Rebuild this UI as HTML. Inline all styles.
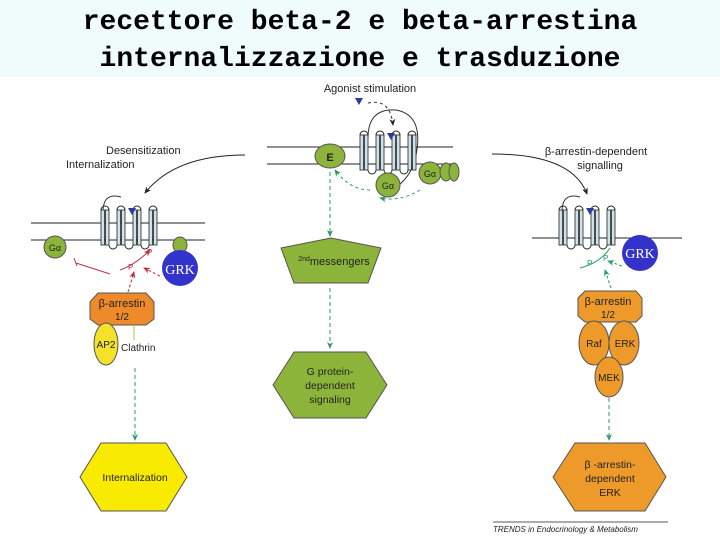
<!DOCTYPE html>
<html><head><meta charset="utf-8"><style>
body{margin:0;width:720px;height:540px;background:#fff;overflow:hidden}
</style></head><body>
<svg width="720" height="540" viewBox="0 0 720 540" xmlns="http://www.w3.org/2000/svg" font-family="Liberation Sans, sans-serif">
<defs>
<marker id="ag" markerWidth="8" markerHeight="8" refX="6" refY="4" orient="auto"><path d="M0,1 L7,4 L0,7 L2,4z" fill="#2a9a6a"/></marker>
<marker id="ak" markerWidth="8" markerHeight="8" refX="6" refY="4" orient="auto"><path d="M0,1 L7,4 L0,7 L2,4z" fill="#222"/></marker>
<marker id="ar" markerWidth="8" markerHeight="8" refX="6" refY="4" orient="auto"><path d="M0,1 L7,4 L0,7 L2,4z" fill="#c03040"/></marker>
<g id="rec">
<path d="M0,-25 a4,4 0 0 1 8,0 M16,-25 a4,4 0 0 1 8,0 M32,-25 a4,4 0 0 1 8,0 M48,-25 a4,4 0 0 1 8,0 M8,10 a4,4 0 0 0 8,0 M24,10 a4,4 0 0 0 8,0 M40,10 a4,4 0 0 0 8,0" fill="none" stroke="#222" stroke-width="1"/>
<rect x="0" y="-25" width="3.5" height="35" fill="#cfe3ea" stroke="#222" stroke-width=".8"/>
<rect x="4.5" y="-25" width="3.5" height="35" fill="#cfe3ea" stroke="#222" stroke-width=".8"/>
<rect x="16" y="-25" width="3.5" height="35" fill="#cfe3ea" stroke="#222" stroke-width=".8"/>
<rect x="20.5" y="-25" width="3.5" height="35" fill="#cfe3ea" stroke="#222" stroke-width=".8"/>
<rect x="32" y="-25" width="3.5" height="35" fill="#cfe3ea" stroke="#222" stroke-width=".8"/>
<rect x="36.5" y="-25" width="3.5" height="35" fill="#cfe3ea" stroke="#222" stroke-width=".8"/>
<rect x="48" y="-25" width="3.5" height="35" fill="#cfe3ea" stroke="#222" stroke-width=".8"/>
<rect x="52.5" y="-25" width="3.5" height="35" fill="#cfe3ea" stroke="#222" stroke-width=".8"/>
<path d="M27,-27 l8,0 l-4,7z" fill="#2a3a9a"/>
</g>
</defs>
<rect x="0" y="0" width="720" height="77" fill="#f0fcfc"/>
<text x="360" y="29" text-anchor="middle" font-family="Liberation Mono, monospace" font-weight="bold" font-size="28" fill="#000">recettore beta-2 e beta-arrestina</text>
<text x="360" y="66" text-anchor="middle" font-family="Liberation Mono, monospace" font-weight="bold" font-size="28" fill="#000">internalizzazione e trasduzione</text>

<!-- center -->
<text x="370" y="92" text-anchor="middle" font-size="11" fill="#222">Agonist stimulation</text>
<path d="M355,98 l8,0 l-4,7z" fill="#2a3a9a"/>
<path d="M368,103 q22,-5 25,22" fill="none" stroke="#333" stroke-dasharray="3,3" marker-end="url(#ak)"/>
<line x1="267" y1="147" x2="453" y2="147" stroke="#222"/>
<line x1="267" y1="164" x2="453" y2="164" stroke="#222"/>
<path d="M368,138 q0,-30 28,-28 q28,5 20,45 q-5,25 -25,35" fill="none" stroke="#333"/>
<use href="#rec" x="360" y="160"/>
<ellipse cx="330" cy="156" rx="15" ry="12" fill="#8db43a" stroke="#555"/>
<text x="330" y="161" text-anchor="middle" font-size="11" font-weight="bold" fill="#222">E</text>
<circle cx="388" cy="185" r="12" fill="#8db43a" stroke="#555"/>
<text x="388" y="189" text-anchor="middle" font-size="9" fill="#222">Gα</text>
<circle cx="430" cy="173" r="11" fill="#8db43a" stroke="#555"/>
<ellipse cx="446" cy="172" rx="6" ry="9" fill="#8db43a" stroke="#555"/>
<ellipse cx="454" cy="172" rx="5" ry="9" fill="#8db43a" stroke="#555"/>
<text x="430" y="177" font-size="9" text-anchor="middle" fill="#222">Gα</text>
<path d="M420,190 q-20,12 -40,8" fill="none" stroke="#2a9a6a" stroke-dasharray="3,3" marker-end="url(#ag)"/>
<path d="M370,190 q-20,0 -35,-20" fill="none" stroke="#2a9a6a" stroke-dasharray="3,3" marker-end="url(#ag)"/>
<line x1="330" y1="172" x2="330" y2="236" stroke="#2a9a6a" stroke-dasharray="4,3" marker-end="url(#ag)"/>
<polygon points="281,248 331,238 381,248 368,283 294,283" fill="#8db43a" stroke="#555"/>
<text x="334" y="265" text-anchor="middle" font-size="11" fill="#222"><tspan font-size="7" dy="-4">2nd</tspan><tspan dy="4">messengers</tspan></text>
<line x1="330" y1="288" x2="330" y2="348" stroke="#2a9a6a" stroke-dasharray="4,3" marker-end="url(#ag)"/>
<polygon points="294,352 366,352 387,385 366,418 294,418 273,385" fill="#8db43a" stroke="#555"/>
<text x="330" y="375" text-anchor="middle" font-size="10.5" fill="#222">G protein-</text>
<text x="330" y="389" text-anchor="middle" font-size="10.5" fill="#222">dependent</text>
<text x="330" y="403" text-anchor="middle" font-size="10.5" fill="#222">signaling</text>

<!-- left -->
<text x="106" y="154" font-size="11" fill="#222">Desensitization</text>
<text x="66" y="168" font-size="11" fill="#222">Internalization</text>
<path d="M245,155 q-70,0 -100,38" fill="none" stroke="#222" marker-end="url(#ak)"/>
<line x1="31" y1="223" x2="205" y2="223" stroke="#222"/>
<line x1="31" y1="240" x2="205" y2="240" stroke="#222"/>
<path d="M103,212 q0,-20 18,-15" fill="none" stroke="#333"/>
<use href="#rec" x="101" y="235"/>
<circle cx="55" cy="247" r="11" fill="#8db43a" stroke="#555"/>
<text x="55" y="251" text-anchor="middle" font-size="9" fill="#222">Gα</text>
<ellipse cx="180" cy="245" rx="7" ry="8" fill="#8db43a" stroke="#555"/>
<circle cx="180" cy="268" r="18" fill="#3333cc"/>
<text x="180" y="274" text-anchor="middle" font-family="Liberation Serif, serif" font-size="14" fill="#fff">GRK</text>
<path d="M110,274 L76,263" stroke="#c03040" stroke-width="1"/><path d="M74,258 l3,8" stroke="#c03040"/>
<path d="M120,270 q15,-5 30,-20" fill="none" stroke="#c03040" marker-end="url(#ar)"/>
<text x="128" y="270" font-size="8" fill="#c03040">P</text><text x="147" y="255" font-size="8" fill="#c03040">P</text>
<path d="M160,276 l-16,-8" stroke="#c03040" stroke-dasharray="3,2" marker-end="url(#ar)"/>
<path d="M128,292 l6,-20" stroke="#c03040" stroke-dasharray="3,2" marker-end="url(#ar)"/>
<polygon points="98,293 146,293 154,302 154,319 146,325 98,325 90,319 90,302" fill="#ee8a2a" stroke="#555"/>
<text x="122" y="307" text-anchor="middle" font-size="11" fill="#222">β-arrestin</text>
<text x="122" y="320" text-anchor="middle" font-size="10" fill="#222">1/2</text>
<ellipse cx="106" cy="344" rx="12" ry="21" fill="#f5e12a" stroke="#555"/>
<text x="106" y="348" text-anchor="middle" font-size="10" fill="#222">AP2</text>
<line x1="134" y1="325" x2="134" y2="340" stroke="#d8b030"/>
<text x="121" y="351" font-size="10" fill="#222">Clathrin</text>
<line x1="135" y1="368" x2="135" y2="440" stroke="#2a9a6a" stroke-dasharray="4,3" marker-end="url(#ag)"/>
<polygon points="101,443 166,443 187,477 166,511 101,511 80,477" fill="#f8ea00" stroke="#555"/>
<text x="135" y="481" text-anchor="middle" font-size="10.5" fill="#222">Internalization</text>

<!-- right -->
<text x="596" y="155" text-anchor="middle" font-size="11" fill="#222">β-arrestin-dependent</text>
<text x="600" y="169" text-anchor="middle" font-size="11" fill="#222">signalling</text>
<path d="M492,154 q80,0 95,40" fill="none" stroke="#222" marker-end="url(#ak)"/>
<line x1="532" y1="238" x2="682" y2="238" stroke="#222"/>
<path d="M562,212 q0,-20 18,-15" fill="none" stroke="#333"/>
<use href="#rec" x="559" y="235"/>
<circle cx="640" cy="253" r="18" fill="#3333cc"/>
<text x="640" y="258" text-anchor="middle" font-family="Liberation Serif, serif" font-size="14" fill="#fff">GRK</text>
<path d="M580,268 q20,-5 30,-20" fill="none" stroke="#2a9a6a"/>
<text x="587" y="266" font-size="8" fill="#2a9a6a">P</text><text x="603" y="261" font-size="8" fill="#2a9a6a">P</text>
<path d="M622,266 l-14,-5" stroke="#2a9a6a" stroke-dasharray="3,2" marker-end="url(#ag)"/>
<path d="M611,288 l-6,-18" stroke="#2a9a6a" stroke-dasharray="3,2" marker-end="url(#ag)"/>
<polygon points="585,291 636,291 642,298 642,316 636,322 585,322 578,316 578,298" fill="#ee9a2a" stroke="#555"/>
<text x="608" y="305" text-anchor="middle" font-size="11" fill="#222">β-arrestin</text>
<text x="608" y="318" text-anchor="middle" font-size="10" fill="#222">1/2</text>
<ellipse cx="594" cy="343" rx="15" ry="22" fill="#ee9a2a" stroke="#555"/>
<ellipse cx="624" cy="343" rx="15" ry="22" fill="#ee9a2a" stroke="#555"/>
<text x="594" y="347" text-anchor="middle" font-size="10" fill="#222">Raf</text>
<text x="625" y="347" text-anchor="middle" font-size="10" fill="#222">ERK</text>
<ellipse cx="609" cy="377" rx="14" ry="20" fill="#ee9a2a" stroke="#555"/>
<text x="609" y="381" text-anchor="middle" font-size="10" fill="#222">MEK</text>
<line x1="609" y1="398" x2="609" y2="440" stroke="#2a9a6a" stroke-dasharray="4,3" marker-end="url(#ag)"/>
<polygon points="575,443 645,443 666,477 645,511 575,511 553,477" fill="#ee9a2a" stroke="#555"/>
<text x="610" y="468" text-anchor="middle" font-size="10.5" fill="#222">β -arrestin-</text>
<text x="610" y="482" text-anchor="middle" font-size="10.5" fill="#222">dependent</text>
<text x="610" y="496" text-anchor="middle" font-size="10.5" fill="#222">ERK</text>
<line x1="493" y1="522" x2="668" y2="522" stroke="#222" stroke-width=".8"/>
<text x="493" y="532" font-size="8" font-style="italic" fill="#222">TRENDS in Endocrinology &amp; Metabolism</text>
</svg>
</body></html>
